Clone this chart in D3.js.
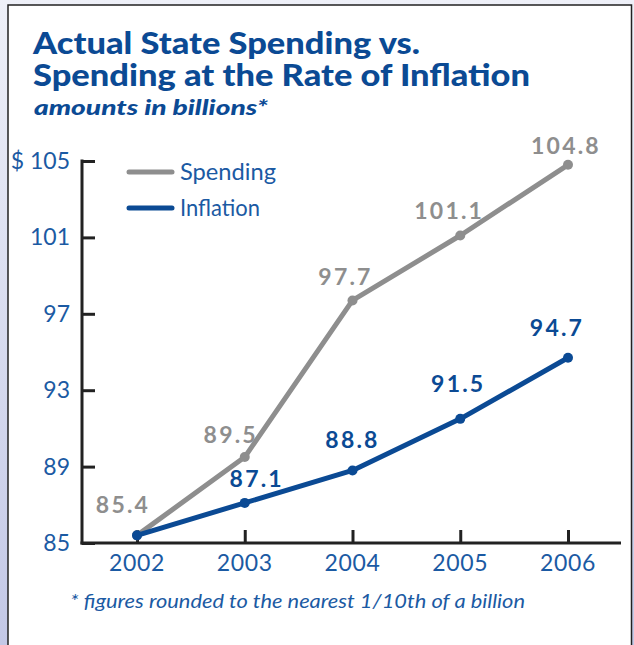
<!DOCTYPE html>
<html><head><meta charset="utf-8">
<script src="https://cdn.jsdelivr.net/npm/d3@7"></script>
<style>html,body{margin:0;padding:0;background:#fff;}svg{display:block;}</style>
</head><body>
<script>
const years = ["2002","2003","2004","2005","2006"];
const spending = [85.4, 89.5, 97.7, 101.1, 104.8];
const inflation = [85.4, 87.1, 88.8, 91.5, 94.7];
const yTicks = [85, 89, 93, 97, 101, 105];
const titleLines = ["Actual State Spending vs.", "Spending at the Rate of Inflation"];
const subtitle = "amounts in billions*";
const footnote = "* figures rounded to the nearest 1/10th of a billion";
const seriesNames = ["Spending", "Inflation"];

const W = 634, H = 645;
const grey = "#8e8e8e", blue = "#0b4a94", tickBlue = "#1b5aa3";
const svg = d3.select("body").append("svg").attr("width", W).attr("height", H);
const defs = svg.append("defs");
const g1 = defs.append("linearGradient").attr("id","bg").attr("x1",0).attr("y1",0).attr("x2",0).attr("y2",1);
g1.append("stop").attr("offset","0").attr("stop-color","#eef0f8");
g1.append("stop").attr("offset","1").attr("stop-color","#c3c8e6");
svg.append("rect").attr("width",W).attr("height",H).attr("fill","url(#bg)");
svg.append("rect").attr("x",8).attr("y",5).attr("width",623.5).attr("height",H).attr("fill","#fff").attr("stroke","#222").attr("stroke-width",1.5);

const font = "Lato, 'Open Sans', sans-serif";
const t = svg.append("g").attr("font-family", font).attr("fill", blue).attr("font-weight",900);
t.append("text").attr("x",33).attr("y",54).attr("font-size",29.5).attr("textLength",387).attr("lengthAdjust","spacingAndGlyphs").text(titleLines[0]);
t.append("text").attr("x",33).attr("y",86).attr("font-size",29.5).attr("textLength",497).attr("lengthAdjust","spacingAndGlyphs").text(titleLines[1]);
t.append("text").attr("x",34).attr("y",115).attr("font-size",21).attr("font-style","italic").attr("textLength",234).attr("lengthAdjust","spacingAndGlyphs").text(subtitle);

const x = d3.scalePoint().domain(years).range([137, 568]);
const y = d3.scaleLinear().domain([85, 105]).range([543, 161]);

// axes
const yAxis = d3.axisRight(y).tickValues(yTicks).tickSize(13).tickFormat("");
const ya = svg.append("g").attr("transform","translate(82,0)").call(yAxis);
ya.select(".domain").remove();
ya.selectAll(".tick line").attr("stroke","#222").attr("stroke-width",3);
svg.append("line").attr("x1",82).attr("x2",82).attr("y1",y(105)-1.5).attr("y2",y(85)+1.5).attr("stroke","#222").attr("stroke-width",3);

const xAxis = d3.axisTop(x).tickSize(13).tickFormat("");
const xa = svg.append("g").attr("transform",`translate(0,${y(85)})`).call(xAxis);
xa.select(".domain").remove();
xa.selectAll(".tick line").attr("stroke","#222").attr("stroke-width",3);
svg.append("line").attr("x1",80.5).attr("x2",621).attr("y1",y(85)).attr("y2",y(85)).attr("stroke","#222").attr("stroke-width",3);

// tick labels
const tl = svg.append("g").attr("font-family", font).attr("fill", tickBlue).attr("font-size",23).attr("font-weight",400);
tl.selectAll("text.yl").data(yTicks).join("text").attr("class","yl")
  .attr("x",70).attr("y",d=>y(d)+8).attr("text-anchor","end").text(d=>d===105?"$ 105":d);
tl.selectAll("text.xl").data(years).join("text").attr("class","xl")
  .attr("x",d=>x(d)).attr("y",571).attr("text-anchor","middle").attr("letter-spacing",0.6).text(d=>d);

// lines
const line = d3.line().x((d,i)=>x(years[i])).y(d=>y(d));
const series = [
  {name:seriesNames[0], vals:spending, color:grey},
  {name:seriesNames[1], vals:inflation, color:blue}
];
series.forEach(s=>{
  svg.append("path").attr("d",line(s.vals)).attr("fill","none").attr("stroke",s.color).attr("stroke-width",5).attr("stroke-linejoin","round");
  svg.append("g").selectAll("circle").data(s.vals).join("circle")
    .attr("cx",(d,i)=>x(years[i])).attr("cy",d=>y(d)).attr("r",5).attr("fill",s.color);
});

// value labels
const lab = svg.append("g").attr("font-family", font).attr("font-size",23).attr("font-weight",700).attr("text-anchor","middle").attr("letter-spacing",2.2);
const spOff = [[-14,-22],[-14,-14],[-7,-15],[-11,-16],[-2,-11]];
spending.forEach((v,i)=>{
  lab.append("text").attr("x",x(years[i])+spOff[i][0]).attr("y",y(v)+spOff[i][1]).attr("fill",grey).text(v.toFixed(1));
});
const inOff = [null,[12,-16],[0,-22],[-2,-27],[-11,-22]];
inflation.forEach((v,i)=>{
  if(!inOff[i]) return;
  lab.append("text").attr("x",x(years[i])+inOff[i][0]).attr("y",y(v)+inOff[i][1]).attr("fill",blue).text(v.toFixed(1));
});

// legend
const lg = svg.append("g");
const lgW = [96, 80];
series.forEach((s,i)=>{
  const yy = 172 + i*36;
  lg.append("line").attr("x1",129).attr("x2",172).attr("y1",yy).attr("y2",yy).attr("stroke",s.color).attr("stroke-width",5).attr("stroke-linecap","round");
  lg.append("text").attr("x",180).attr("y",yy+8).attr("font-family",font).attr("font-size",23).attr("fill",tickBlue)
    .attr("textLength",lgW[i]).attr("lengthAdjust","spacingAndGlyphs").text(s.name);
});

// footnote
svg.append("text").attr("x",70).attr("y",608).attr("font-family",font).attr("font-size",19).attr("font-style","italic").attr("fill",tickBlue)
  .attr("textLength",455).attr("lengthAdjust","spacingAndGlyphs").text(footnote);
</script>
</body></html>
